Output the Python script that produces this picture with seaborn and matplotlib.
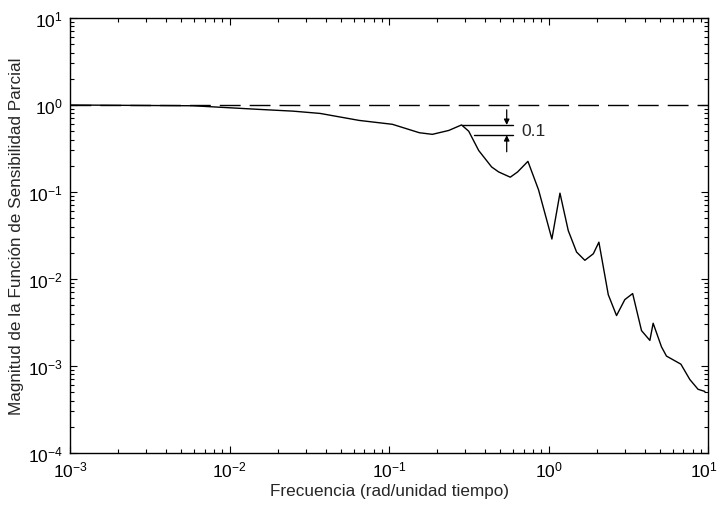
import numpy as np
import pandas as pd
import matplotlib
matplotlib.use("Agg")
import matplotlib.pyplot as plt
import matplotlib.transforms as mtransforms
from matplotlib.ticker import LogLocator, LogFormatterMathtext, NullFormatter
import seaborn as sns

# ---- data ----
freq = [0.001, 0.0059, 0.0154, 0.025, 0.037, 0.065, 0.105, 0.155, 0.187, 0.237,
        0.285, 0.316, 0.365, 0.44, 0.487, 0.576, 0.64, 0.743, 0.866, 1.05,
        1.18, 1.33, 1.50, 1.69, 1.91, 2.07, 2.37, 2.67, 3.01, 3.37,
        3.83, 4.32, 4.53, 5.11, 5.49, 6.76, 7.69, 8.66, 9.56]
magnitude = [1.0, 0.98, 0.89, 0.85, 0.80, 0.665, 0.60, 0.48, 0.46, 0.51,
             0.59, 0.50, 0.30, 0.194, 0.17, 0.148, 0.17, 0.225, 0.106, 0.0288,
             0.097, 0.036, 0.0204, 0.0164, 0.0195, 0.0265, 0.0066, 0.0038, 0.0058, 0.0068,
             0.00255, 0.00197, 0.0031, 0.00166, 0.0013, 0.00105, 0.0007, 0.00054, 0.00051]
ref_x = [1e-3, 1e1]
ref_y = [1.0, 1.0]
margin_label = "0.1"
margin_upper = 0.59
margin_lower = 0.45
xlabel = "Frecuencia (rad/unidad tiempo)"
ylabel = "Magnitud de la Función de Sensibilidad Parcial"

sns.set_style("ticks")
plt.rcParams['font.family'] = ['Liberation Sans', 'DejaVu Sans']
plt.rcParams['mathtext.default'] = 'regular'

fig = plt.figure(figsize=(7.2, 5.06), dpi=100)
ax = fig.add_axes([70/720, 52/506, 638/720, 435/506])

df = pd.DataFrame({"freq": freq, "mag": magnitude})
sns.lineplot(data=df, x="freq", y="mag", ax=ax, color="black", linewidth=1.0,
             estimator=None, sort=False)
sns.lineplot(x=ref_x, y=ref_y, ax=ax, color="black", linewidth=1.0,
             estimator=None, sort=False, linestyle=(0, (15, 6.5)))

ax.set_xscale("log")
ax.set_yscale("log")
ax.set_xlim(1e-3, 1e1)
ax.set_ylim(1e-4, 1e1)

# margin annotation
ax.plot([0.285, 0.60], [margin_upper, margin_upper], color="black", lw=1)
ax.plot([0.34, 0.60], [margin_lower, margin_lower], color="black", lw=1)
ax.annotate("", xy=(0.547, margin_upper), xytext=(0.547, 0.88),
            arrowprops=dict(arrowstyle="-|>", color="black", lw=0.9,
                            mutation_scale=8, shrinkA=0, shrinkB=0))
ax.annotate("", xy=(0.547, margin_lower), xytext=(0.547, 0.29),
            arrowprops=dict(arrowstyle="-|>", color="black", lw=0.9,
                            mutation_scale=8, shrinkA=0, shrinkB=0))
ax.text(0.68, np.sqrt(margin_upper * margin_lower), margin_label,
        fontsize=12.5, va="center", ha="left")

ax.xaxis.set_major_locator(LogLocator(base=10, numticks=10))
ax.yaxis.set_major_locator(LogLocator(base=10, numticks=10))
ax.xaxis.set_minor_locator(LogLocator(base=10, subs=np.arange(2, 10), numticks=20))
ax.yaxis.set_minor_locator(LogLocator(base=10, subs=np.arange(2, 10), numticks=20))
ax.xaxis.set_major_formatter(LogFormatterMathtext())
ax.yaxis.set_major_formatter(LogFormatterMathtext())
ax.xaxis.set_minor_formatter(NullFormatter())
ax.yaxis.set_minor_formatter(NullFormatter())

ax.tick_params(which="both", direction="in", top=True, right=True, colors="black",
               labelsize=12.5, width=0.8)
ax.tick_params(which="major", length=5, pad=5)
ax.tick_params(which="minor", length=3)
for s in ax.spines.values():
    s.set_visible(True)
    s.set_color("black")
    s.set_linewidth(1.0)

ax.set_xlabel(xlabel, fontsize=12.3, labelpad=2)
ax.set_ylabel(ylabel, fontsize=12.3, labelpad=3)

# nudge the last x tick label so it stays inside the figure
fig.canvas.draw()
shift = mtransforms.ScaledTranslation(-4/100, 0, fig.dpi_scale_trans)
for tick in ax.xaxis.get_major_ticks():
    if np.isclose(tick.get_loc(), 10.0):
        tick.label1.set_transform(tick.label1.get_transform() + shift)

fig.savefig("out.png", dpi=100)
